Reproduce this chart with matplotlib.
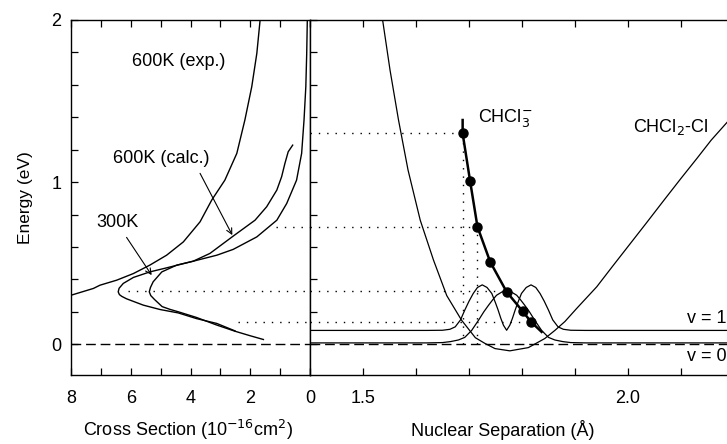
import numpy as np
import matplotlib
matplotlib.use('Agg')
import matplotlib.pyplot as plt
from matplotlib.ticker import MultipleLocator, NullFormatter

plt.rcParams['font.family'] = ['Liberation Sans', 'DejaVu Sans']
plt.rcParams['font.size'] = 13

# ---- left panel: cross section (1e-16 cm2) vs energy (eV) ----
exp_cs = [8.0, 7.25, 7.03, 6.47, 5.91, 5.36, 4.80, 4.24, 3.68, 3.29, 2.85, 2.45, 2.18, 1.95, 1.78, 1.67]
exp_E = [0.302, 0.344, 0.364, 0.395, 0.436, 0.488, 0.549, 0.631, 0.755, 0.889, 1.012, 1.177, 1.383, 1.588, 1.794, 2.0]

# outer curve (300K arrow), lower end -> minimum -> top
k300_cs = [2.51, 3.12, 3.80, 4.41, 5.02, 5.58, 6.14, 6.30, 6.38, 6.42, 6.39, 6.25, 5.91, 5.36, 4.80, 3.91,
           3.12, 2.57, 1.78, 1.11, 0.78, 0.45, 0.28, 0.20, 0.14, 0.11, 0.09]
k300_E = [0.082, 0.128, 0.158, 0.193, 0.214, 0.241, 0.280, 0.295, 0.306, 0.323, 0.345, 0.375, 0.412, 0.446, 0.471, 0.512,
          0.549, 0.585, 0.662, 0.765, 0.868, 1.012, 1.177, 1.383, 1.588, 1.794, 2.0]

# inner curve (600K calc. arrow)
calc_cs = [1.56, 2.00, 2.51, 3.12, 3.80, 4.41, 4.69, 4.95, 5.20, 5.33, 5.38, 5.34, 5.25, 4.96, 4.46, 3.91,
           3.35, 2.57, 1.84, 1.45, 1.11, 0.95, 0.84, 0.73, 0.58]
calc_E = [0.029, 0.052, 0.080, 0.118, 0.165, 0.200, 0.215, 0.232, 0.275, 0.300, 0.323, 0.350, 0.385, 0.446, 0.488, 0.512,
          0.560, 0.667, 0.765, 0.848, 0.951, 1.033, 1.115, 1.187, 1.228]

# ---- right panel: potential curves vs nuclear separation (A) ----
neut_R = [1.537, 1.551, 1.567, 1.585, 1.608, 1.633, 1.658, 1.686, 1.712, 1.730, 1.749, 1.777, 1.812,
          1.843, 1.862, 1.881, 1.903, 1.941, 1.970, 2.002, 2.034, 2.068, 2.100, 2.130, 2.157, 2.190]
neut_E = [2.0, 1.691, 1.383, 1.074, 0.765, 0.519, 0.30, 0.148, 0.040, 0.005, -0.027, -0.041, -0.021,
          0.035, 0.085, 0.14, 0.22, 0.354, 0.477, 0.611, 0.745, 0.889, 1.023, 1.146, 1.259, 1.38]

anion_R = [1.688, 1.688, 1.702, 1.716, 1.740, 1.771, 1.801, 1.817, 1.837]
anion_E = [1.383, 1.30, 1.008, 0.724, 0.508, 0.323, 0.204, 0.138, 0.076]

v0_R = [1.40, 1.620, 1.650, 1.665, 1.680, 1.692, 1.705, 1.718, 1.728, 1.737, 1.745, 1.752, 1.762, 1.771,
        1.780, 1.790, 1.797, 1.805, 1.814, 1.824, 1.837, 1.850, 1.862, 1.877, 1.892, 1.920, 2.20]
v0_E = [0.008, 0.008, 0.010, 0.016, 0.026, 0.042, 0.085, 0.148, 0.200, 0.241, 0.275, 0.302, 0.322, 0.328,
        0.322, 0.302, 0.275, 0.241, 0.200, 0.148, 0.085, 0.042, 0.026, 0.016, 0.010, 0.008, 0.008]

v1_R = [1.40, 1.620, 1.650, 1.664, 1.674, 1.684, 1.692, 1.700, 1.708, 1.716, 1.725, 1.734, 1.743, 1.750,
        1.755, 1.760, 1.765, 1.771, 1.777, 1.782, 1.787, 1.792, 1.799, 1.808, 1.817, 1.826, 1.834, 1.842,
        1.850, 1.858, 1.868, 1.878, 1.892, 1.920, 2.20]
v1_E = [0.085, 0.085, 0.086, 0.092, 0.107, 0.150, 0.210, 0.265, 0.313, 0.350, 0.366, 0.350, 0.313, 0.255,
        0.210, 0.160, 0.117, 0.086, 0.117, 0.160, 0.210, 0.255, 0.313, 0.350, 0.366, 0.350, 0.313, 0.265,
        0.210, 0.150, 0.107, 0.092, 0.086, 0.085, 0.085]

# energy levels marked with dotted lines
level_E = [1.30, 0.724, 0.331, 0.138]
level_R = [1.688, 1.716, 1.771, 1.817]
level_cs_start = [None, 1.15, 6.1, 2.4]
vert_R = [1.688, 1.716]
vert_E = [1.30, 0.724]

fig = plt.figure(figsize=(7.27, 4.44), dpi=100)
W, H = 727.0, 444.0
axL = fig.add_axes([71/W, 1-375/H, 239/W, 355/H])
axR = fig.add_axes([310/W, 1-375/H, 424/W, 355/H])

dots = (0, (1, 5))
dash = (0, (7, 3.5))

# left panel
axL.plot(exp_cs, exp_E, color='k', lw=1.0)
axL.plot(k300_cs, k300_E, color='k', lw=1.0)
axL.plot(calc_cs, calc_E, color='k', lw=1.0)
axL.axhline(0, color='k', lw=1.0, linestyle=dash)
for e, c in zip(level_E, level_cs_start):
    if c is not None:
        axL.plot([c, 0], [e, e], color='k', lw=1.0, linestyle=dots)

axL.text(4.385, 1.741, '600K (exp.)', ha='center', va='center')
axL.text(4.99, 1.148, '600K (calc.)', ha='center', va='center')
axL.text(6.44, 0.753, '300K', ha='center', va='center')
arrow = dict(arrowstyle='->', lw=0.8, color='k', shrinkA=0, shrinkB=0, mutation_scale=10)
axL.annotate('', xy=(5.30, 0.426), xytext=(6.14, 0.659), arrowprops=arrow)
axL.annotate('', xy=(2.60, 0.673), xytext=(3.68, 1.054), arrowprops=arrow)

axL.set_xlim(8, 0)
axL.set_ylim(-0.19, 2.0)
axL.xaxis.set_major_locator(MultipleLocator(2))
axL.xaxis.set_minor_locator(MultipleLocator(1))
axL.yaxis.set_major_locator(MultipleLocator(1))
axL.yaxis.set_minor_locator(MultipleLocator(0.2))
axL.tick_params(which='both', direction='in', top=True, right=False, length=5, width=0.9)
axL.tick_params(axis='x', pad=11)
axL.tick_params(axis='y', pad=7)
axL.set_ylabel('Energy (eV)', fontsize=12.5, labelpad=13)

# right panel
axR.plot(neut_R, neut_E, color='k', lw=0.9)
axR.plot(v0_R, v0_E, color='k', lw=0.9)
axR.plot(v1_R, v1_E, color='k', lw=0.9)
axR.axhline(0, color='k', lw=1.0, linestyle=dash)
axR.plot(anion_R, anion_E, color='k', lw=1.8)
axR.plot(anion_R[1:-1], anion_E[1:-1], 'o', color='k', markersize=6.5)
for e, r in zip(level_E, level_R):
    axR.plot([1.4, r], [e, e], color='k', lw=1.0, linestyle=dots)
for r, e in zip(vert_R, vert_E):
    axR.plot([r, r], [0, e], color='k', lw=1.0, linestyle=dots)

axR.text(1.717, 1.370, 'CHCl$_3^{\\mathsf{-}}$', ha='left', va='baseline')
axR.text(2.009, 1.310, 'CHCl$_2$-Cl', ha='left', va='baseline')
axR.text(2.112, 0.130, 'v = 1', ha='left', va='baseline')
axR.text(2.112, -0.105, 'v = 0', ha='left', va='baseline')

axR.set_xlim(1.4, 2.2)
axR.set_ylim(-0.19, 2.0)
axR.set_xticks([1.5, 2.0])
axR.set_xticklabels(['1.5', '2.0'])
axR.xaxis.set_minor_locator(MultipleLocator(0.1))
axR.yaxis.set_major_locator(MultipleLocator(1))
axR.yaxis.set_minor_locator(MultipleLocator(0.2))
axR.yaxis.set_major_formatter(NullFormatter())
axR.tick_params(which='both', direction='in', top=True, right=False, length=5, width=0.9)
axR.tick_params(axis='x', pad=11)

for ax in (axL, axR):
    for s in ax.spines.values():
        s.set_linewidth(1.0)

fig.text(188/W, 1-430/H, 'Cross Section (10$^{\\mathsf{-16}}$cm$^{\\mathsf{2}}$)', ha='center', va='center')
fig.text(503/W, 1-430/H, 'Nuclear Separation (Å)', ha='center', va='center')

fig.savefig('out.png', dpi=100)
